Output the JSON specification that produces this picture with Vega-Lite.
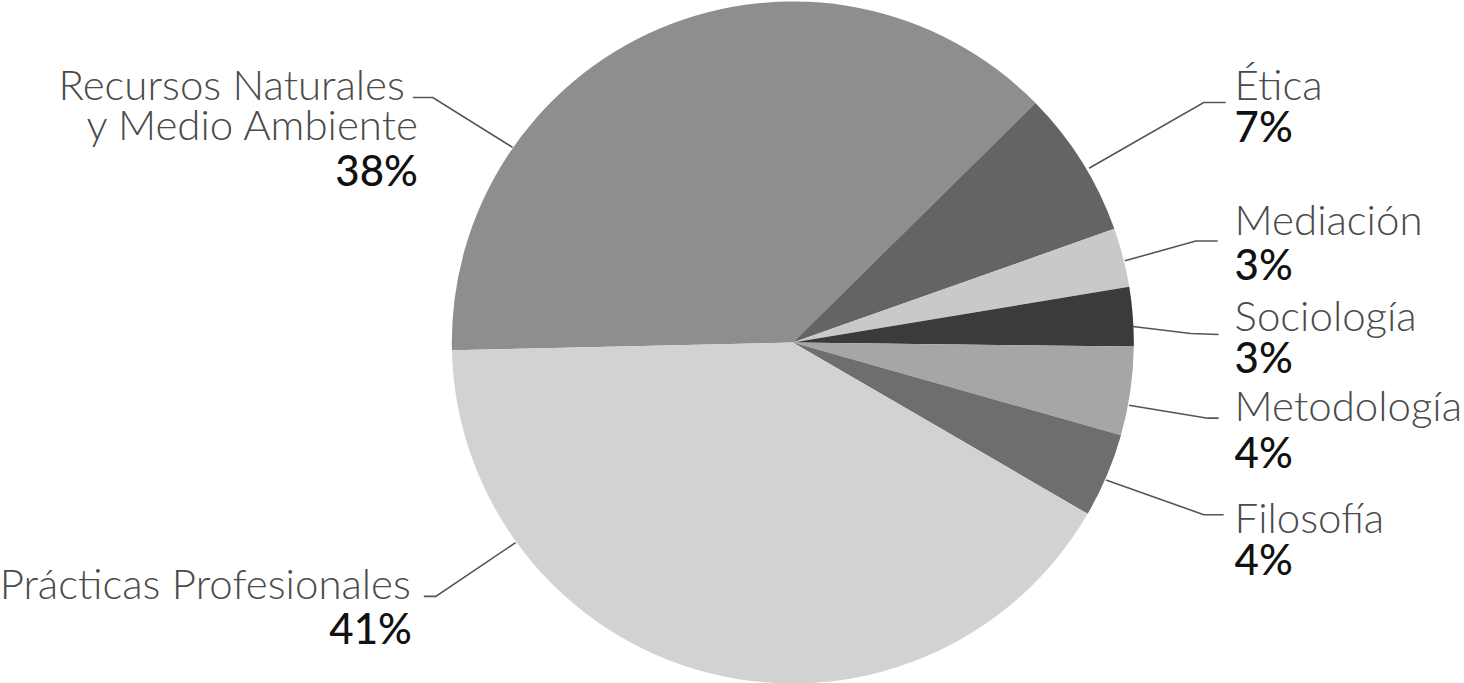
{
  "$schema": "https://vega.github.io/schema/vega-lite/v6.json",
  "width": 1464,
  "height": 683,
  "autosize": {"type": "fit", "contains": "padding"},
  "padding": 0,
  "background": "white",
  "config": {"view": {"stroke": null}},
  "datasets": {
    "slices": [
      {"idx": 1, "name": "Recursos Naturales y Medio Ambiente", "value": 38.0},
      {"idx": 2, "name": "Ética", "value": 7.0},
      {"idx": 3, "name": "Mediación", "value": 2.8},
      {"idx": 4, "name": "Sociología", "value": 2.8},
      {"idx": 5, "name": "Metodología", "value": 4.2},
      {"idx": 6, "name": "Filosofía", "value": 4.0},
      {"idx": 7, "name": "Prácticas Profesionales", "value": 41.3}
    ],
    "labels": [
      {"text": "Recursos Naturales", "kind": "name", "side": "left", "u": -1.1408, "v": 0.7155},
      {"text": "y Medio Ambiente", "kind": "name", "side": "left", "u": -1.1026, "v": 0.5953},
      {"text": "38%", "kind": "pct", "side": "left", "u": -1.1026, "v": 0.4604},
      {"text": "Prácticas Profesionales", "kind": "name", "side": "left", "u": -1.1232, "v": -0.7566},
      {"text": "41%", "kind": "pct", "side": "left", "u": -1.1202, "v": -0.8886},
      {"text": "Ética", "kind": "name", "side": "right", "u": 1.2991, "v": 0.7155},
      {"text": "7%", "kind": "pct", "side": "right", "u": 1.2991, "v": 0.5894},
      {"text": "Mediación", "kind": "name", "side": "right", "u": 1.2991, "v": 0.3167},
      {"text": "3%", "kind": "pct", "side": "right", "u": 1.2991, "v": 0.1848},
      {"text": "Sociología", "kind": "name", "side": "right", "u": 1.2991, "v": 0.0352},
      {"text": "3%", "kind": "pct", "side": "right", "u": 1.2991, "v": -0.0909},
      {"text": "Metodología", "kind": "name", "side": "right", "u": 1.2991, "v": -0.2317},
      {"text": "4%", "kind": "pct", "side": "right", "u": 1.2991, "v": -0.3695},
      {"text": "Filosofía", "kind": "name", "side": "right", "u": 1.2991, "v": -0.5601},
      {"text": "4%", "kind": "pct", "side": "right", "u": 1.2991, "v": -0.6862}
    ],
    "leaders": [
      {"label": "Recursos", "o": 1, "u": -0.8240, "v": 0.5748},
      {"label": "Recursos", "o": 2, "u": -1.0587, "v": 0.7214},
      {"label": "Recursos", "o": 3, "u": -1.1173, "v": 0.7214},
      {"label": "Ética", "o": 1, "u": 0.8710, "v": 0.5132},
      {"label": "Ética", "o": 2, "u": 1.2082, "v": 0.7067},
      {"label": "Ética", "o": 3, "u": 1.2727, "v": 0.7067},
      {"label": "Mediación", "o": 1, "u": 0.9765, "v": 0.2405},
      {"label": "Mediación", "o": 2, "u": 1.1848, "v": 0.2991},
      {"label": "Mediación", "o": 3, "u": 1.2493, "v": 0.2991},
      {"label": "Sociología", "o": 1, "u": 1.0, "v": 0.0469},
      {"label": "Sociología", "o": 2, "u": 1.1701, "v": 0.0264},
      {"label": "Sociología", "o": 3, "u": 1.2522, "v": 0.0235},
      {"label": "Metodología", "o": 1, "u": 0.9883, "v": -0.1848},
      {"label": "Metodología", "o": 2, "u": 1.2199, "v": -0.2229},
      {"label": "Metodología", "o": 3, "u": 1.2522, "v": -0.2229},
      {"label": "Filosofía", "o": 1, "u": 0.9208, "v": -0.4047},
      {"label": "Filosofía", "o": 2, "u": 1.2082, "v": -0.5073},
      {"label": "Filosofía", "o": 3, "u": 1.2669, "v": -0.5073},
      {"label": "Prácticas", "o": 1, "u": -0.8152, "v": -0.5894},
      {"label": "Prácticas", "o": 2, "u": -1.0499, "v": -0.7478},
      {"label": "Prácticas", "o": 3, "u": -1.0850, "v": -0.7478}
    ]
  },
  "encoding": {
    "x": {"type": "quantitative", "scale": {"domain": [-2.3196, 1.9736], "nice": false, "zero": false}, "axis": null},
    "y": {"type": "quantitative", "scale": {"domain": [-0.99413, 1.0088], "nice": false, "zero": false}, "axis": null}
  },
  "layer": [
    {
      "data": {"name": "slices"},
      "mark": {"type": "arc", "outerRadius": 341, "stroke": null},
      "encoding": {
        "x": {"datum": 0, "type": "quantitative"},
        "y": {"datum": 0, "type": "quantitative"},
        "theta": {"field": "value", "type": "quantitative", "stack": true, "scale": {"range": [-1.5935, 4.6897]}},
        "order": {"field": "idx", "type": "quantitative"},
        "color": {
          "field": "name", "type": "nominal", "legend": null,
          "scale": {
            "domain": ["Recursos Naturales y Medio Ambiente", "Ética", "Mediación", "Sociología", "Metodología", "Filosofía", "Prácticas Profesionales"],
            "range": ["#8e8e8e", "#646464", "#c9c9c9", "#3b3b3b", "#a6a6a6", "#6e6e6e", "#d2d2d2"]
          }
        }
      }
    },
    {
      "data": {"name": "leaders"},
      "mark": {"type": "line", "color": "#555555", "strokeWidth": 1.6, "interpolate": "linear"},
      "encoding": {
        "x": {"field": "u", "type": "quantitative"},
        "y": {"field": "v", "type": "quantitative"},
        "detail": {"field": "label", "type": "nominal"},
        "order": {"field": "o", "type": "quantitative"}
      }
    },
    {
      "data": {"name": "labels"},
      "transform": [{"filter": "datum.kind === 'name' && datum.side === 'left'"}],
      "mark": {"type": "text", "align": "right", "baseline": "alphabetic", "font": "Lato", "fontWeight": 300, "fontSize": 42, "color": "#4a4a4a"},
      "encoding": {
        "x": {"field": "u", "type": "quantitative"},
        "y": {"field": "v", "type": "quantitative"},
        "text": {"field": "text", "type": "nominal"}
      }
    },
    {
      "data": {"name": "labels"},
      "transform": [{"filter": "datum.kind === 'name' && datum.side === 'right'"}],
      "mark": {"type": "text", "align": "left", "baseline": "alphabetic", "font": "Lato", "fontWeight": 300, "fontSize": 42, "color": "#4a4a4a"},
      "encoding": {
        "x": {"field": "u", "type": "quantitative"},
        "y": {"field": "v", "type": "quantitative"},
        "text": {"field": "text", "type": "nominal"}
      }
    },
    {
      "data": {"name": "labels"},
      "transform": [{"filter": "datum.kind === 'pct' && datum.side === 'left'"}],
      "mark": {"type": "text", "align": "right", "baseline": "alphabetic", "font": "Lato", "fontWeight": 500, "fontSize": 42, "color": "#111111"},
      "encoding": {
        "x": {"field": "u", "type": "quantitative"},
        "y": {"field": "v", "type": "quantitative"},
        "text": {"field": "text", "type": "nominal"}
      }
    },
    {
      "data": {"name": "labels"},
      "transform": [{"filter": "datum.kind === 'pct' && datum.side === 'right'"}],
      "mark": {"type": "text", "align": "left", "baseline": "alphabetic", "font": "Lato", "fontWeight": 500, "fontSize": 42, "color": "#111111"},
      "encoding": {
        "x": {"field": "u", "type": "quantitative"},
        "y": {"field": "v", "type": "quantitative"},
        "text": {"field": "text", "type": "nominal"}
      }
    }
  ]
}
